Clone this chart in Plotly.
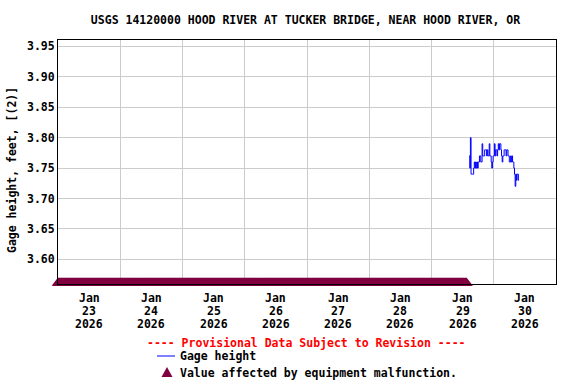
import plotly.graph_objects as go
import pandas as pd

title = "USGS 14120000 HOOD RIVER AT TUCKER BRIDGE, NEAR HOOD RIVER, OR"
y_title = "Gage height, feet, [(2)]"

# Gage height, 15-minute readings starting Jan 29 14:30
gage_start = "2026-01-29 14:30"
gage_values = [
    3.77, 3.75, 3.80, 3.74, 3.74, 3.74, 3.74, 3.75, 3.76, 3.75,
    3.76, 3.75, 3.76, 3.75, 3.76, 3.76, 3.77, 3.77, 3.76, 3.76,
    3.79, 3.77, 3.77, 3.77, 3.78, 3.78, 3.78, 3.77, 3.78, 3.77,
    3.77, 3.79, 3.77, 3.77, 3.76, 3.75, 3.76, 3.77, 3.77, 3.79,
    3.77, 3.78, 3.78, 3.77, 3.78, 3.79, 3.78, 3.79, 3.79, 3.78,
    3.77, 3.76, 3.77, 3.77, 3.78, 3.78, 3.78, 3.77, 3.78, 3.78,
    3.77, 3.77, 3.76, 3.76, 3.77, 3.76, 3.77, 3.76, 3.76, 3.75,
    3.74, 3.72, 3.74, 3.73, 3.74, 3.74, 3.73, 3.73,
]
gage_times = pd.date_range(gage_start, periods=len(gage_values), freq="15min")

# Equipment-malfunction flags (15-minute readings)
malf_start = "2026-01-23 00:00"
malf_end = "2026-01-29 13:30"
malf_times = pd.date_range(malf_start, malf_end, freq="15min")

y_min, y_max = 3.5595, 3.9605
y_ticks = [3.60, 3.65, 3.70, 3.75, 3.80, 3.85, 3.90, 3.95]

month_label = "Jan"
year_label = "2026"
day_labels = ["23", "24", "25", "26", "27", "28", "29", "30"]
label_times = pd.date_range("2026-01-23 12:00", periods=8, freq="1D")
x_range = ["2026-01-23 00:00", "2026-01-31 00:00"]

MAROON = "#800040"
FONT = "DejaVu Sans Mono"
FS = 11.5

W, H = 576, 384
L, R, T, B = 58, 20, 40, 100
PW, PH = W - L - R, H - T - B


def px(v):  # page pixel x -> paper
    return (v - L) / PW


def py(v):  # page pixel y -> paper
    return (T + PH - v) / PH


fig = go.Figure()
fig.add_trace(go.Scatter(
    x=malf_times, y=[y_min + 0.0015] * len(malf_times), mode="markers",
    marker=dict(symbol="triangle-up", size=11, color=MAROON, line=dict(width=0)),
    cliponaxis=False, showlegend=False, hoverinfo="skip"))
fig.add_trace(go.Scatter(
    x=gage_times, y=gage_values, mode="lines", line=dict(color="#0000FF", width=1, shape="hv"),
    showlegend=False))

fig.update_layout(
    width=W, height=H, margin=dict(l=L, r=R, t=T, b=B),
    paper_bgcolor="white", plot_bgcolor="white",
    font=dict(family=FONT, size=FS, color="black", weight="bold"),
    title=dict(text=title, x=305.5 / W, xanchor="center", y=1 - 20 / H, yanchor="middle",
               font=dict(family=FONT, size=FS, color="black", weight="bold")),
    xaxis=dict(range=x_range, tickmode="array", tickvals=label_times,
               ticktext=[""] * len(label_times),
               showgrid=False, ticks="", showline=True, linecolor="black", linewidth=1, mirror=True,
               minor=dict(dtick=86400000, tick0="2026-01-23", showgrid=True, gridcolor="#cccccc",
                          gridwidth=1, ticks=""),
               zeroline=False),
    yaxis=dict(range=[y_min, y_max], tickmode="array", tickvals=y_ticks,
               ticktext=[f"{v:.2f}" for v in y_ticks],
               showgrid=True, gridcolor="#cccccc", gridwidth=1, ticks="", ticklen=0,
               showline=True, linecolor="black", linewidth=1, mirror=True, zeroline=False),
)

# three-row date labels under each day
for t, d in zip(label_times, day_labels):
    for row, txt in zip((298, 311, 324), (month_label, d, year_label)):
        fig.add_annotation(text=txt, x=t, xref="x", yref="paper", y=py(row), showarrow=False,
                           xanchor="center", yanchor="middle",
                           font=dict(family=FONT, size=FS, color="black", weight="bold"))

fig.add_annotation(text=y_title, textangle=-90, xref="paper", yref="paper",
                   x=px(12), y=py(170), showarrow=False, xanchor="center", yanchor="middle",
                   font=dict(family=FONT, size=FS, color="black", weight="bold"))
fig.add_annotation(text="---- Provisional Data Subject to Revision ----", xref="paper", yref="paper",
                   x=px(306), y=py(343), showarrow=False, xanchor="center", yanchor="middle",
                   font=dict(family=FONT, size=FS, color="#FF0000", weight="bold"))
fig.add_annotation(text="Gage height", xref="paper", yref="paper",
                   x=px(178), y=py(356), showarrow=False, xanchor="left", yanchor="middle",
                   font=dict(family=FONT, size=FS, color="black", weight="bold"))
fig.add_annotation(text="Value affected by equipment malfunction.", xref="paper", yref="paper",
                   x=px(178), y=py(373), showarrow=False, xanchor="left", yanchor="middle",
                   font=dict(family=FONT, size=FS, color="black", weight="bold"))
fig.add_shape(type="line", xref="paper", yref="paper",
              x0=px(157), x1=px(175), y0=py(356), y1=py(356),
              line=dict(color="#0000FF", width=1))
fig.add_shape(type="path", xref="paper", yref="paper",
              path=f"M {px(161.5)} {py(377)} L {px(172.5)} {py(377)} L {px(167)} {py(367)} Z",
              fillcolor=MAROON, line=dict(width=0))

# remove the default 8px page margin so the 576x384 figure fills the window
fig.write_html("out.html", config={"displayModeBar": False, "staticPlot": True},
               post_script="document.body.style.margin='0';document.body.style.overflow='hidden';")
